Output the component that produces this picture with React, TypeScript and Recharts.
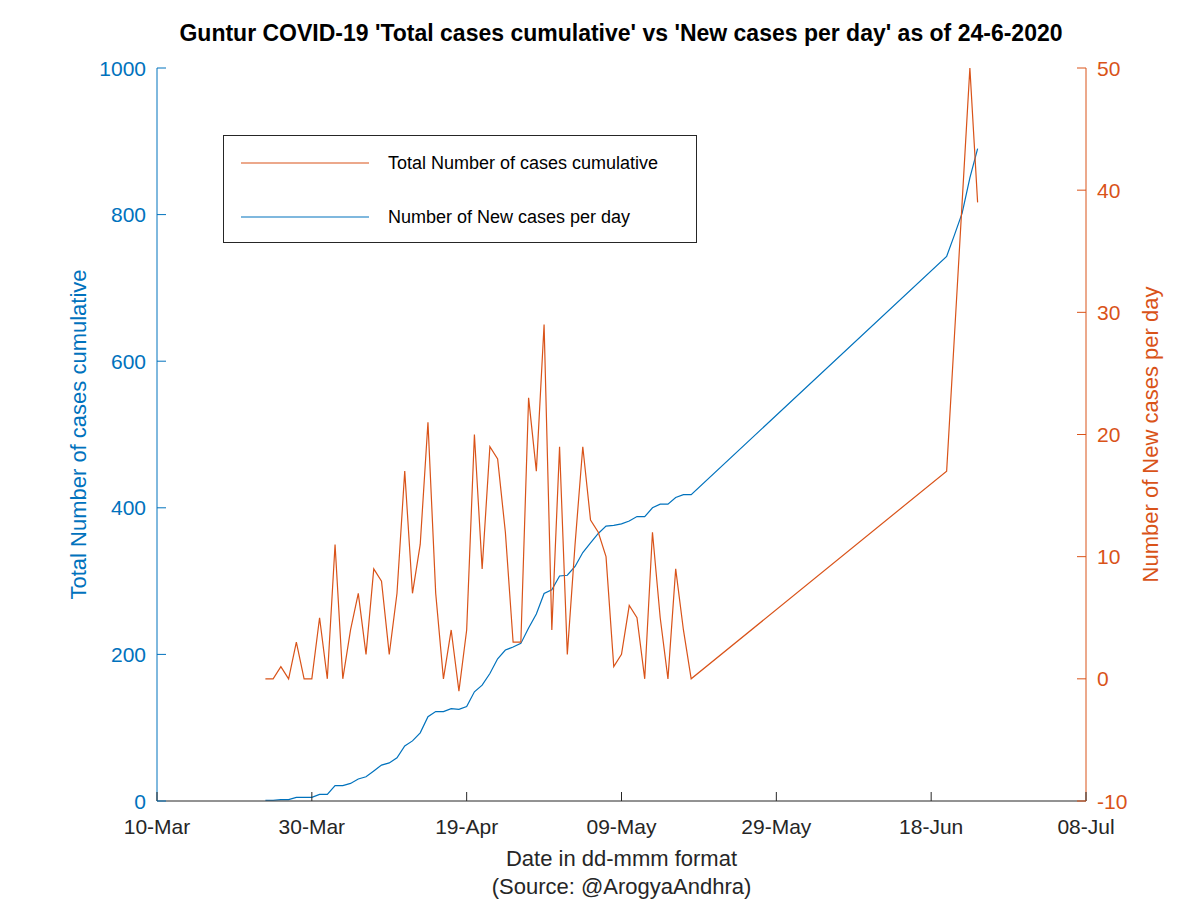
import React from 'react';
import { ComposedChart, Line, XAxis, YAxis, Legend } from 'recharts';

const BLUE = '#0072BD';
const ORANGE = '#D95319';
const AXIS_DARK = '#262626';
const FONT = '"Liberation Sans", Arial, Helvetica, sans-serif';

// days counted from 10-Mar-2020 (no data between 18-May and 20-Jun)
const dayOffsets = [
	14, 15, 16, 17, 18, 19, 20, 21, 22, 23,
	24, 25, 26, 27, 28, 29, 30, 31, 32, 33,
	34, 35, 36, 37, 38, 39, 40, 41, 42, 43,
	44, 45, 46, 47, 48, 49, 50, 51, 52, 53,
	54, 55, 56, 57, 58, 59, 60, 61, 62, 63,
	64, 65, 66, 67, 68, 69,
	102, 103, 104, 105, 106,
];

// blue line, left axis
const totalCases = [
	1, 1, 2, 2, 5, 5, 5, 9, 9, 21,
	21, 24, 30, 33, 41, 49, 52, 59, 75, 82,
	93, 115, 122, 122, 126, 125, 129, 149, 158, 174,
	194, 206, 210, 215, 236, 255, 283, 288, 307, 308,
	320, 339, 352, 365, 375, 376, 378, 382, 388, 388,
	400, 405, 405, 414, 418, 418,
	743, 772, 802, 850, 890,
];

// orange line, right axis
const newCases = [
	0, 0, 1, 0, 3, 0, 0, 5, 0, 11,
	0, 4, 7, 2, 9, 8, 2, 7, 17, 7,
	11, 21, 7, 0, 4, -1, 4, 20, 9, 19,
	18, 12, 3, 3, 23, 17, 29, 4, 19, 2,
	11, 19, 13, 12, 10, 1, 2, 6, 5, 0,
	12, 5, 0, 9, 4, 0,
	17, 28, 39, 50, 39,
];

const xTickDays = [0, 20, 40, 60, 80, 100, 120];
const xTickLabels = ['10-Mar', '30-Mar', '19-Apr', '09-May', '29-May', '18-Jun', '08-Jul'];
const leftTicks = [0, 200, 400, 600, 800, 1000];
const rightTicks = [-10, 0, 10, 20, 30, 40, 50];

const TITLE = "Guntur COVID-19 'Total cases cumulative' vs 'New cases per day' as of 24-6-2020";
// the source legend names the lines this way round, kept as is
const TOTAL_NAME = 'Number of New cases per day';
const DAILY_NAME = 'Total Number of cases cumulative';
const legendOrder = [DAILY_NAME, TOTAL_NAME];

const chartData = dayOffsets.map((day, i) => ({
	day,
	total: totalCases[i],
	daily: newCases[i],
}));

const TICK_LEN = 9;
const TICK_FONT = 21;
const LABEL_FONT = 22;

const BottomTick = (props: any) => {
	const { x, y, payload } = props;
	return (
		<g>
			<line x1={x} y1={y} x2={x} y2={y - TICK_LEN} stroke={AXIS_DARK} />
			<text x={x} y={y + 33} textAnchor='middle' fill={AXIS_DARK} fontSize={TICK_FONT} fontFamily={FONT}>
				{xTickLabels[xTickDays.indexOf(payload.value)]}
			</text>
		</g>
	);
};

const TopTick = (props: any) => {
	const { x, y } = props;
	return <line x1={x} y1={y} x2={x} y2={y + TICK_LEN} stroke={AXIS_DARK} />;
};

const LeftTick = (props: any) => {
	const { x, y, payload } = props;
	return (
		<g>
			<line x1={x} y1={y} x2={x + TICK_LEN} y2={y} stroke={BLUE} />
			<text x={x - 11} y={y} dy='0.36em' textAnchor='end' fill={BLUE} fontSize={TICK_FONT} fontFamily={FONT}>
				{payload.value}
			</text>
		</g>
	);
};

const RightTick = (props: any) => {
	const { x, y, payload } = props;
	return (
		<g>
			<line x1={x} y1={y} x2={x - TICK_LEN} y2={y} stroke={ORANGE} />
			<text x={x + 11} y={y} dy='0.36em' textAnchor='start' fill={ORANGE} fontSize={TICK_FONT} fontFamily={FONT}>
				{payload.value}
			</text>
		</g>
	);
};

const renderXLabel = (props: any) => {
	const { x, y, width } = props.viewBox;
	const cx = x + width / 2;
	return (
		<g fontFamily={FONT} fontSize={LABEL_FONT} fill={AXIS_DARK} textAnchor='middle'>
			<text x={cx} y={y + 65}>Date in dd-mmm format</text>
			<text x={cx} y={y + 93}>(Source: @ArogyaAndhra)</text>
		</g>
	);
};

const renderLeftLabel = (props: any) => {
	const { x, y, height } = props.viewBox;
	const cx = x + 21;
	const cy = y + height / 2;
	return (
		<text
			x={cx}
			y={cy}
			transform={`rotate(-90 ${cx} ${cy})`}
			textAnchor='middle'
			dominantBaseline='central'
			fill={BLUE}
			fontSize={LABEL_FONT}
			fontFamily={FONT}
		>
			Total Number of cases cumulative
		</text>
	);
};

const renderRightLabel = (props: any) => {
	const { x, y, height } = props.viewBox;
	const cx = x + 64;
	const cy = y + height / 2;
	return (
		<text
			x={cx}
			y={cy}
			transform={`rotate(-90 ${cx} ${cy})`}
			textAnchor='middle'
			dominantBaseline='central'
			fill={ORANGE}
			fontSize={LABEL_FONT}
			fontFamily={FONT}
		>
			Number of New cases per day
		</text>
	);
};

const renderLegend = (props: any) => {
	const items = [...(props.payload || [])].sort(
		(a: any, b: any) => legendOrder.indexOf(a.value) - legendOrder.indexOf(b.value)
	);
	return (
		<div
			style={{
				width: 474,
				height: 108,
				boxSizing: 'border-box',
				border: `1px solid ${AXIS_DARK}`,
				background: '#fff',
				position: 'relative',
				fontFamily: FONT,
				fontSize: 18,
			}}
		>
			{items.map((item: any, i: number) => (
				<div
					key={item.value}
					style={{
						position: 'absolute',
						left: 17,
						top: 17 + i * 54,
						height: 20,
						display: 'flex',
						alignItems: 'center',
						whiteSpace: 'nowrap',
					}}
				>
					<svg width={129} height={20} style={{ display: 'block' }}>
						<line x1={0} y1={10} x2={128} y2={10} stroke={item.color} strokeWidth={1.2} />
					</svg>
					<span style={{ marginLeft: 18, color: '#000' }}>{item.value}</span>
				</div>
			))}
		</div>
	);
};

export default function App() {
	return (
		<div style={{ position: 'absolute', left: 0, top: 0, width: 1200, height: 900, background: '#fff' }}>
			<div
				style={{
					position: 'absolute',
					left: 621,
					top: 19,
					transform: 'translateX(-50%)',
					whiteSpace: 'nowrap',
					fontFamily: FONT,
					fontWeight: 'bold',
					fontSize: 23,
					lineHeight: '28px',
					color: '#000',
				}}
			>
				{TITLE}
			</div>
			<ComposedChart
				width={1200}
				height={900}
				data={chartData}
				margin={{ top: 68, right: 14, bottom: 59, left: 57 }}
			>
				<XAxis
					xAxisId='bottom'
					type='number'
					dataKey='day'
					domain={[0, 120]}
					ticks={xTickDays}
					interval={0}
					tickSize={0}
					tickMargin={0}
					tickLine={false}
					axisLine={{ stroke: AXIS_DARK }}
					tick={BottomTick}
					height={40}
					label={renderXLabel}
				/>
				<XAxis
					xAxisId='top'
					orientation='top'
					type='number'
					dataKey='day'
					domain={[0, 120]}
					ticks={xTickDays}
					interval={0}
					tickSize={0}
					tickMargin={0}
					tickLine={false}
					axisLine={{ stroke: AXIS_DARK }}
					tick={TopTick}
					height={0}
				/>
				<YAxis
					yAxisId='left'
					type='number'
					domain={[0, 1000]}
					ticks={leftTicks}
					interval={0}
					tickSize={0}
					tickMargin={0}
					tickLine={false}
					axisLine={{ stroke: BLUE }}
					tick={LeftTick}
					width={100}
					label={renderLeftLabel}
				/>
				<YAxis
					yAxisId='right'
					orientation='right'
					type='number'
					domain={[-10, 50]}
					ticks={rightTicks}
					interval={0}
					tickSize={0}
					tickMargin={0}
					tickLine={false}
					axisLine={{ stroke: ORANGE }}
					tick={RightTick}
					width={100}
					label={renderRightLabel}
				/>
				<Legend
					layout='vertical'
					align='center'
					verticalAlign='middle'
					content={renderLegend}
					wrapperStyle={{ left: 223, top: 135, width: 474, height: 108 }}
				/>
				<Line
					xAxisId='bottom'
					yAxisId='left'
					type='linear'
					dataKey='total'
					name={TOTAL_NAME}
					stroke={BLUE}
					strokeWidth={1.2}
					dot={false}
					activeDot={false}
					isAnimationActive={false}
				/>
				<Line
					xAxisId='bottom'
					yAxisId='right'
					type='linear'
					dataKey='daily'
					name={DAILY_NAME}
					stroke={ORANGE}
					strokeWidth={1.2}
					dot={false}
					activeDot={false}
					isAnimationActive={false}
				/>
			</ComposedChart>
		</div>
	);
}
